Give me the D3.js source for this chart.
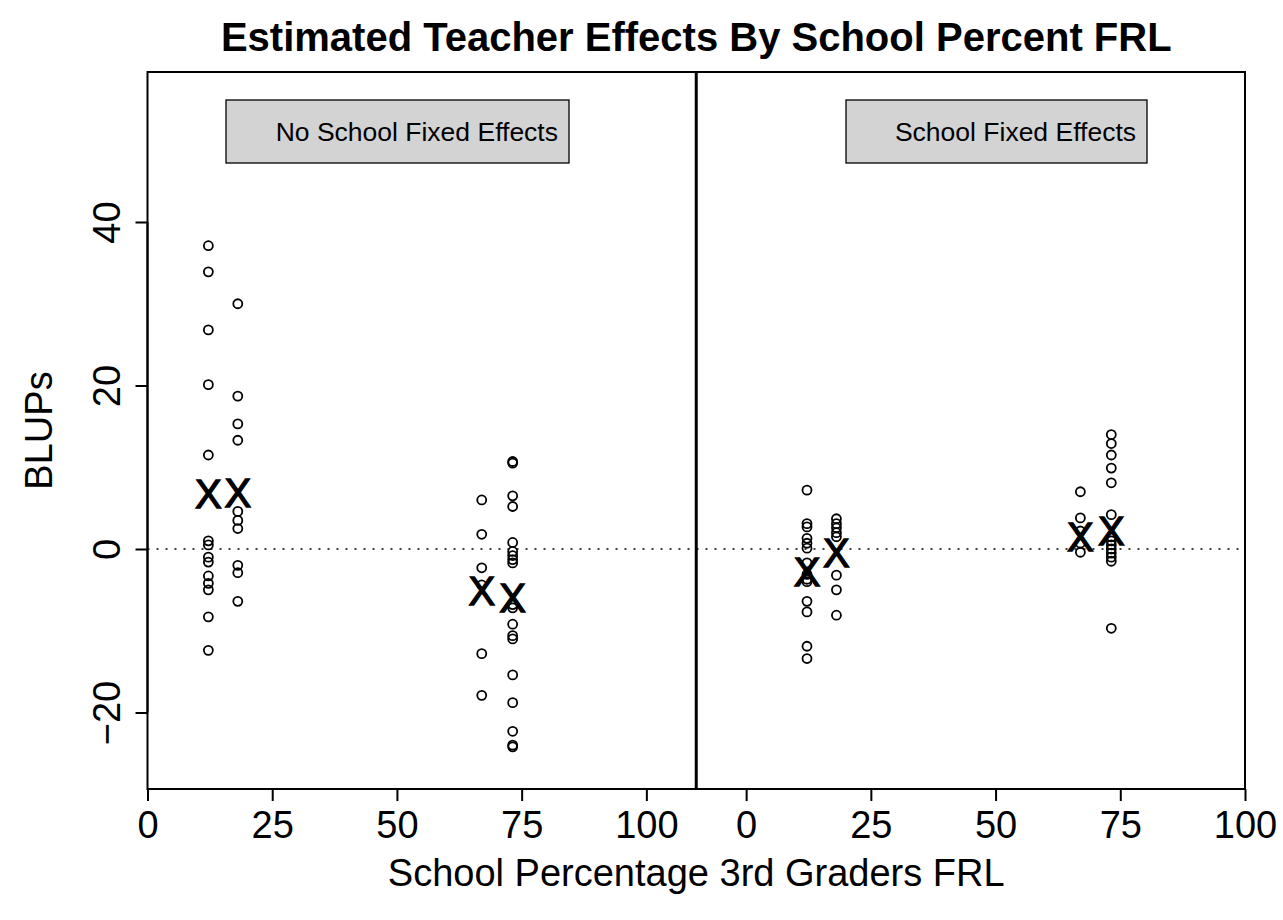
<!DOCTYPE html>
<html>
<head>
<meta charset="utf-8">
<script src="https://cdn.jsdelivr.net/npm/d3@7"></script>
<style>
html,body{margin:0;padding:0;background:#fff;}
svg{display:block;font-family:"Liberation Sans",Arial,Helvetica,sans-serif;}
</style>
</head>
<body>
<svg id="chart" width="1283" height="920"></svg>
<script>
// ---- data ----
const panelTitles = ["No School Fixed Effects", "School Fixed Effects"];
const schoolFRL = [12.2, 18.1, 67.0, 73.2];           // school % 3rd graders FRL
const panelOffset = [0, 120];                          // right panel shifted along x
const xTickValues = [0, 25, 50, 75, 100];
const yTickValues = [-20, 0, 20, 40];

// BLUPs, no school fixed effects (one array per school)
const blupNoFE = [
  [37.1, 33.9, 26.8, 20.1, 11.5, 1.0, 0.5, -1.0, -1.6, -3.3, -4.2, -5.0, -8.3, -12.4],
  [30.0, 18.7, 15.3, 13.3, 4.6, 3.5, 2.5, -2.0, -2.9, -6.4],
  [6.0, 1.8, -2.3, -4.4, -12.8, -17.9],
  [10.7, 10.5, 6.5, 5.2, 0.8, -0.3, -0.8, -1.3, -1.7, -6.8, -7.2, -9.2, -10.6, -11.0, -15.4, -18.8, -22.3, -24.0, -24.2]
];
// BLUPs, school fixed effects
const blupFE = [
  [7.2, 3.1, 2.7, 1.3, 0.7, 0.1, -1.7, -3.1, -3.7, -4.0, -6.4, -7.7, -11.9, -13.4],
  [3.7, 3.1, 2.6, 2.0, 1.5, -3.2, -5.0, -8.1],
  [7.0, 3.8, 2.2, 0.7, -0.4],
  [14.0, 12.9, 11.5, 9.9, 8.1, 4.2, 1.5, 1.0, 0.5, 0.0, -0.5, -1.0, -1.5, -9.7]
];
// school mean markers ("X")
const meanNoFE = [6.8, 6.9, -5.1, -6.0];
const meanFE = [-2.8, -0.5, 1.5, 2.3];

// ---- drawing ----
const svg = d3.select("#chart");
const L = 147.5, R = 1245, T = 72, B = 789;
const x = d3.scaleLinear().domain([0, 220]).range([L, R]);
const y = d3.scaleLinear().domain([-29.36, 58.35]).range([B, T]);
const FONT = "Liberation Sans, Arial, sans-serif";

// title
svg.append("text").attr("x", (L + R) / 2).attr("y", 51)
  .attr("text-anchor", "middle").attr("font-size", 40).attr("font-weight", "bold")
  .text("Estimated Teacher Effects By School Percent FRL");

// dotted zero line
svg.append("line").attr("x1", L).attr("x2", R).attr("y1", y(0)).attr("y2", y(0))
  .attr("stroke", "#000").attr("stroke-width", 1.4).attr("stroke-dasharray", "2,7");

// divider
svg.append("line").attr("x1", x(110)).attr("x2", x(110)).attr("y1", T).attr("y2", B)
  .attr("stroke", "#000").attr("stroke-width", 3);

// points
const series = [blupNoFE, blupFE];
const means = [meanNoFE, meanFE];
series.forEach((groups, p) => {
  groups.forEach((vals, g) => {
    svg.append("g").selectAll("circle").data(vals).join("circle")
      .attr("cx", x(schoolFRL[g] + panelOffset[p]))
      .attr("cy", d => y(d))
      .attr("r", 4.5).attr("fill", "none").attr("stroke", "#000").attr("stroke-width", 1.8);
  });
  svg.append("g").selectAll("text").data(means[p]).join("text")
    .attr("x", (d, g) => x(schoolFRL[g] + panelOffset[p]))
    .attr("y", d => y(d))
    .attr("dy", "0.36em")
    .attr("text-anchor", "middle").attr("font-size", 40)
    .attr("stroke", "#000").attr("stroke-width", 1.3)
    .text("X");
});

// legend boxes
panelTitles.forEach((t, p) => {
  const bx = p === 0 ? 226 : 846, bw = p === 0 ? 343 : 301;
  svg.append("rect").attr("x", bx).attr("y", 100).attr("width", bw).attr("height", 63)
    .attr("fill", "#d3d3d3").attr("stroke", "#000").attr("stroke-width", 1.3);
  svg.append("text").attr("x", bx + bw - 11).attr("y", 141).attr("text-anchor", "end")
    .attr("font-size", 26.5).text(t);
});

// frame
svg.append("rect").attr("x", L).attr("y", T).attr("width", R - L).attr("height", B - T)
  .attr("fill", "none").attr("stroke", "#000").attr("stroke-width", 2);

// x axis (both panels)
const xTicksAll = panelOffset.flatMap(o => xTickValues.map(v => v + o));
const xAxis = d3.axisBottom(x).tickValues(xTicksAll).tickSize(12).tickPadding(10)
  .tickFormat(d => String(d >= 120 ? d - 120 : d));
const gx = svg.append("g").attr("transform", `translate(0,${B})`).call(xAxis);
gx.attr("font-size", null).attr("font-family", null);
gx.select(".domain").attr("stroke-width", 2).attr("d", `M${x(0)},0H${x(220)}`);
gx.selectAll(".tick line").attr("stroke-width", 2);
gx.selectAll(".tick text").attr("font-size", 38).attr("font-family", FONT).attr("fill", "#000");

// y axis
const fmt = d => d < 0 ? "\u2212" + Math.abs(d) : String(d);
const yAxis = d3.axisLeft(y).tickValues(yTickValues).tickSize(12).tickFormat(fmt);
const gy = svg.append("g").attr("transform", `translate(${L},0)`).call(yAxis);
gy.attr("font-size", null).attr("font-family", null);
gy.select(".domain").attr("stroke-width", 2).attr("d", `M0,${y(yTickValues[0])}V${y(yTickValues[yTickValues.length-1])}`);
gy.selectAll(".tick line").attr("stroke-width", 2);
gy.selectAll(".tick text")
  .attr("font-size", 38).attr("font-family", FONT).attr("fill", "#000")
  .attr("text-anchor", "middle").attr("transform", "rotate(-90)")
  .attr("x", 0).attr("y", -28).attr("dy", 0);

// axis titles
svg.append("text").attr("x", (L + R) / 2).attr("y", 886).attr("text-anchor", "middle")
  .attr("font-size", 38).text("School Percentage 3rd Graders FRL");
svg.append("text").attr("transform", `translate(52,${(T + B) / 2}) rotate(-90)`)
  .attr("text-anchor", "middle").attr("font-size", 38).text("BLUPs");
</script>
</body>
</html>
